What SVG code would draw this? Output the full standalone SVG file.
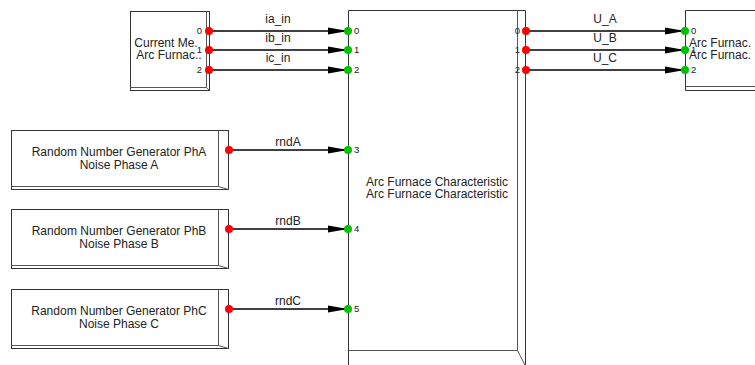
<svg xmlns="http://www.w3.org/2000/svg" width="755" height="365" viewBox="0 0 755 365">
<defs>
<style>
.out{fill:#fff;stroke:#333;stroke-width:1}
.in{fill:none;stroke:#555;stroke-width:1}
.t{font-family:"Liberation Sans",Arial,sans-serif;font-size:12px;fill:#222}
.p{font-family:"Liberation Sans",Arial,sans-serif;font-size:9.5px;fill:#222}
.w{stroke:#000;stroke-width:1.5;fill:none}
.wl{font-family:"Liberation Sans",Arial,sans-serif;font-size:12px;fill:#222;text-anchor:middle}
.r{fill:#ff0000}
.g{fill:#00c000}
</style>
<marker id="ah" viewBox="0 0 20 8" refX="19" refY="4" markerWidth="20" markerHeight="8" markerUnits="userSpaceOnUse" orient="auto">
<path d="M0,0.5 L20,4 L0,7.5 Z" fill="#000"/>
</marker>
</defs>
<rect width="755" height="365" fill="#fff"/>

<g id="connectors">
<path class="w" d="M209,31 H347" marker-end="url(#ah)"/>
<path class="w" d="M209,50 H347" marker-end="url(#ah)"/>
<path class="w" d="M209,70 H347" marker-end="url(#ah)"/>
<path class="w" d="M229,150 H347" marker-end="url(#ah)"/>
<path class="w" d="M229,229 H347" marker-end="url(#ah)"/>
<path class="w" d="M229,309 H347" marker-end="url(#ah)"/>
<path class="w" d="M526,31 H684" marker-end="url(#ah)"/>
<path class="w" d="M526,50 H684" marker-end="url(#ah)"/>
<path class="w" d="M526,70 H684" marker-end="url(#ah)"/>
<text class="wl" x="278" y="23">ia_in</text>
<text class="wl" x="278" y="42">ib_in</text>
<text class="wl" x="278" y="62">ic_in</text>
<text class="wl" x="288" y="146">rndA</text>
<text class="wl" x="288" y="225">rndB</text>
<text class="wl" x="288" y="305">rndC</text>
<text class="wl" x="605" y="23">U_A</text>
<text class="wl" x="605" y="42">U_B</text>
<text class="wl" x="605" y="62">U_C</text>
</g>

<g id="current_meas">
<rect class="out" x="130.5" y="11.5" width="79" height="79"/>
<path class="in" d="M206.5,11.5 V87.5 H130.5 M206.5,87.5 L209.5,90.5"/>
<text class="t" x="166" y="47" text-anchor="middle">Current Me.</text>
<text class="t" x="169" y="59" text-anchor="middle">Arc Furnac..</text>
<text class="p" x="202" y="34" text-anchor="end">0</text>
<text class="p" x="202" y="53" text-anchor="end">1</text>
<text class="p" x="202" y="73" text-anchor="end">2</text>
<circle class="r" cx="209" cy="31" r="4"/>
<circle class="r" cx="209" cy="50" r="4"/>
<circle class="r" cx="209" cy="70" r="4"/>
</g>

<g id="rngA">
<rect class="out" x="11.5" y="130.5" width="217" height="59"/>
<path class="in" d="M218.5,130.5 V186.5 H11.5 M218.5,186.5 L228.5,189.5"/>
<text class="t" x="119" y="156" text-anchor="middle">Random Number Generator PhA</text>
<text class="t" x="119" y="169" text-anchor="middle">Noise Phase A</text>
<circle class="r" cx="229" cy="150" r="4"/>
</g>

<g id="rngB">
<rect class="out" x="11.5" y="209.5" width="217" height="59"/>
<path class="in" d="M218.5,209.5 V265.5 H11.5 M218.5,265.5 L228.5,268.5"/>
<text class="t" x="119" y="235" text-anchor="middle">Random Number Generator PhB</text>
<text class="t" x="119" y="248" text-anchor="middle">Noise Phase B</text>
<circle class="r" cx="229" cy="229" r="4"/>
</g>

<g id="rngC">
<rect class="out" x="11.5" y="289.5" width="217" height="59"/>
<path class="in" d="M218.5,289.5 V345.5 H11.5 M218.5,345.5 L228.5,348.5"/>
<text class="t" x="119" y="315" text-anchor="middle">Random Number Generator PhC</text>
<text class="t" x="119" y="328" text-anchor="middle">Noise Phase C</text>
<circle class="r" cx="229" cy="309" r="4"/>
</g>

<g id="arc_furnace">
<path class="out" d="M348.5,10.5 H525.5 V370 H348.5 Z"/>
<path class="in" d="M517.5,10.5 V350.5 H348.5 M517.5,350.5 L525.5,366"/>
<text class="t" x="437" y="186" text-anchor="middle">Arc Furnace Characteristic</text>
<text class="t" x="437" y="198" text-anchor="middle">Arc Furnace Characteristic</text>
<text class="p" x="354" y="34">0</text>
<text class="p" x="354" y="53">1</text>
<text class="p" x="354" y="73">2</text>
<text class="p" x="354" y="153">3</text>
<text class="p" x="354" y="232">4</text>
<text class="p" x="354" y="312">5</text>
<text class="p" x="520" y="34" text-anchor="end">0</text>
<text class="p" x="520" y="53" text-anchor="end">1</text>
<text class="p" x="520" y="73" text-anchor="end">2</text>
<circle class="g" cx="348" cy="31" r="4"/>
<circle class="g" cx="348" cy="50" r="4"/>
<circle class="g" cx="348" cy="70" r="4"/>
<circle class="g" cx="348" cy="150" r="4"/>
<circle class="g" cx="348" cy="229" r="4"/>
<circle class="g" cx="348" cy="309" r="4"/>
<circle class="r" cx="526" cy="31" r="4"/>
<circle class="r" cx="526" cy="50" r="4"/>
<circle class="r" cx="526" cy="70" r="4"/>
</g>

<g id="arc_out">
<path class="out" d="M760,10.5 H685.5 V90.5 H760"/>
<path class="in" d="M685.5,86.5 H760"/>
<text class="t" x="689" y="47">Arc Furnac.</text>
<text class="t" x="689" y="59">Arc Furnac.</text>
<text class="p" x="691" y="34">0</text>
<text class="p" x="691" y="53">1</text>
<text class="p" x="691" y="73">2</text>
<circle class="g" cx="685" cy="31" r="4"/>
<circle class="g" cx="685" cy="50" r="4"/>
<circle class="g" cx="685" cy="70" r="4"/>
</g>
</svg>
